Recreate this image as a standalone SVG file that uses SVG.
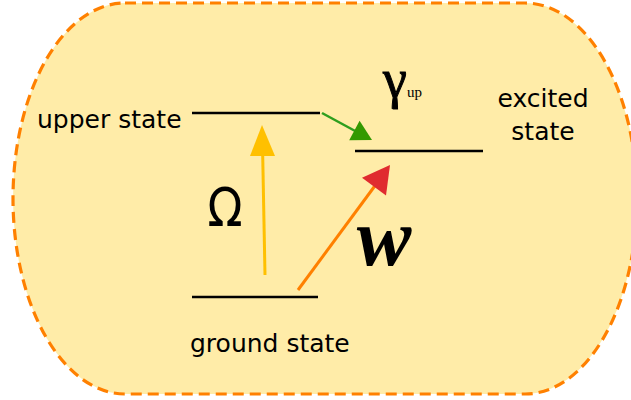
<svg xmlns="http://www.w3.org/2000/svg" width="631" height="400" viewBox="0 0 631 400">
<style>
.lvl{stroke:#000;stroke-width:2.5;fill:none}
.lbl{font-family:"DejaVu Sans",Verdana,sans-serif;font-size:25px;fill:#000}
</style>
<rect id="frame" x="13" y="3" width="624" height="391" rx="112" ry="195.5" fill="#FFECA8" stroke="#FF8000" stroke-width="3.2" stroke-dasharray="11,6"/>
<g id="upper-state">
<line class="lvl" x1="192" y1="113" x2="320" y2="113"/>
<text class="lbl" x="37" y="128">upper state</text>
</g>
<g id="excited-state">
<line class="lvl" x1="355" y1="151" x2="483" y2="151"/>
<text class="lbl" x="543" y="107" text-anchor="middle">excited</text>
<text class="lbl" x="543" y="140" text-anchor="middle">state</text>
</g>
<g id="ground-state">
<line class="lvl" x1="192" y1="297" x2="318" y2="297"/>
<text class="lbl" x="190" y="352">ground state</text>
</g>
<g id="connectors">
<g id="omega-arrow">
<line x1="265" y1="275" x2="262.6" y2="150" stroke="#FFC000" stroke-width="3"/>
<polygon points="262,125 275,156 250,156" fill="#FFC000"/>
</g>
<g id="w-arrow">
<line x1="298" y1="290" x2="377" y2="183" stroke="#FF8000" stroke-width="3"/>
<polygon points="390,165 386,195.6 362,177.8" fill="#E02B2F"/>
</g>
<g id="gamma-arrow">
<line x1="322" y1="113" x2="357" y2="132" stroke="#2E9E1E" stroke-width="2.5"/>
<polygon points="372,140 359.6,120.8 349.2,140.2" fill="#339900"/>
</g>
</g>
<g id="labels">
<text x="225" y="226" text-anchor="middle" font-family="DejaVu Sans,sans-serif" font-size="54" transform="translate(225,0) scale(0.85,1) translate(-225,0)">Ω</text>
<text x="395" y="97" text-anchor="middle" font-family="Liberation Serif,serif" font-size="54" stroke="#000" stroke-width="1">γ</text>
<text x="407" y="97" font-family="Liberation Serif,serif" font-size="15">up</text>
<text x="384" y="265" text-anchor="middle" font-family="Liberation Serif,serif" font-size="82" font-weight="bold" font-style="italic">w</text>
</g>
</svg>
